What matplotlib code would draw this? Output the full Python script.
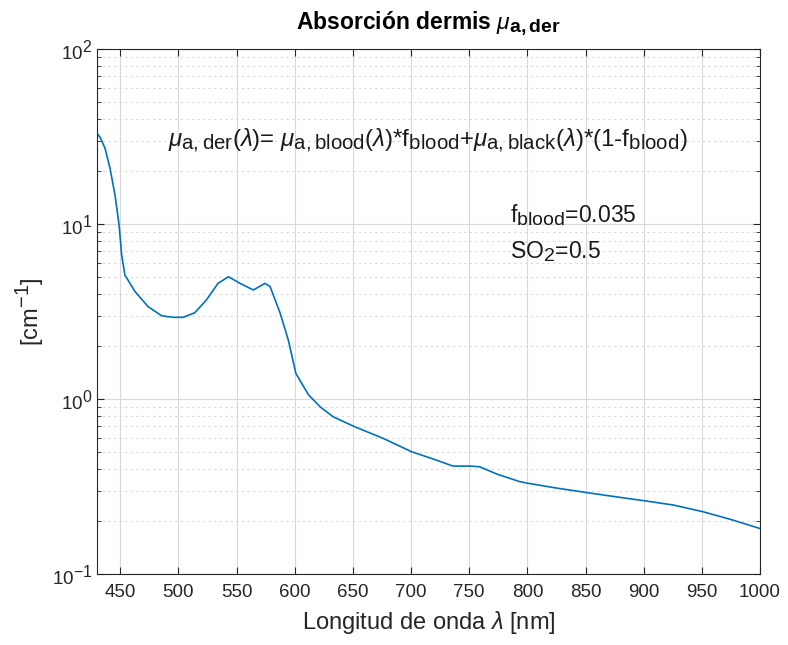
import matplotlib
matplotlib.use("Agg")
import matplotlib.pyplot as plt
import matplotlib._mathtext as _mt
import numpy as np
from matplotlib.ticker import LogLocator, FixedLocator, NullFormatter

# MATLAB-style larger sub/superscripts
_mt.SHRINK_FACTOR = 0.85

plt.rcParams['font.family'] = ['Liberation Sans', 'DejaVu Sans']
plt.rcParams['mathtext.fontset'] = 'custom'
plt.rcParams['mathtext.rm'] = 'Liberation Sans'
plt.rcParams['mathtext.it'] = 'Liberation Sans:italic'
plt.rcParams['mathtext.bf'] = 'Liberation Sans:bold'

wavelength = [430, 433, 436.9, 441.2, 445.5, 449, 451.2, 454, 462.7, 474, 485.6, 495.6,
              504, 514, 524, 534, 543, 553, 564.4, 574.5, 578.8, 587.4, 594.5, 601,
              611.7, 622, 633, 650.4, 676, 700.5, 720, 736, 750.7, 759, 775, 793.7,
              800.8, 825, 851, 875, 901, 925.5, 951, 975, 1000]
mu_a_der = [33.0, 31.0, 27.1, 20.8, 14.6, 9.86, 6.65, 5.11, 4.11, 3.37, 2.99, 2.93,
            2.93, 3.11, 3.68, 4.58, 5.0, 4.58, 4.20, 4.58, 4.39, 3.1, 2.17, 1.40,
            1.06, 0.90, 0.792, 0.70, 0.596, 0.50, 0.452, 0.414, 0.414, 0.41, 0.37, 0.337,
            0.330, 0.31, 0.292, 0.277, 0.262, 0.248, 0.227, 0.205, 0.182]

x_ticks = [450, 500, 550, 600, 650, 700, 750, 800, 850, 900, 950, 1000]

fig = plt.figure(figsize=(7.88, 6.45), dpi=100)
ax = fig.add_axes([0.1231, 0.110, 0.8414, 0.814])

ax.plot(wavelength, mu_a_der, color='#0072BD', lw=1.2)
ax.set_yscale('log')
ax.set_xlim(430, 1000)
ax.set_ylim(0.1, 100)
ax.xaxis.set_major_locator(FixedLocator(x_ticks))
ax.yaxis.set_major_locator(LogLocator(base=10, numticks=10))
ax.yaxis.set_minor_locator(LogLocator(base=10, subs=np.arange(2, 10), numticks=20))
ax.yaxis.set_minor_formatter(NullFormatter())

ax.grid(True, which='major', color='#d9d9d9', lw=0.8, ls='-')
ax.grid(True, which='minor', axis='y', color='#d9d9d9', lw=0.8, ls=(0, (2, 3)))
ax.set_axisbelow(True)

ax.tick_params(which='both', direction='in', top=True, right=True, colors='#262626',
               labelsize=13.5)
ax.tick_params(which='major', length=5)
ax.tick_params(which='minor', length=3)
ax.tick_params(axis='x', pad=7)
for s in ax.spines.values():
    s.set_color('#262626')
    s.set_linewidth(0.8)

ax.set_xlabel(r'Longitud de onda $\lambda$ [nm]', fontsize=17, color='#262626', labelpad=6)
ax.set_ylabel(r'[cm$^{-1}$]', fontsize=17, color='#262626')
ax.set_title(r'Absorción dermis $\mu_{\mathbf{a,der}}$', fontsize=16.5, fontweight='bold',
             color='black', pad=14)

ax.text(491, 30, r'$\mu_{\rm a,der}(\lambda)$= $\mu_{\rm a,blood}(\lambda)$*f$_{\rm blood}$+$\mu_{\rm a,black}(\lambda)$*(1-f$_{\rm blood}$)',
        fontsize=17.3, va='center', ha='left', color='#1a1a1a')
ax.text(785, 11.2, r'f$_{\rm blood}$=0.035', fontsize=16.5, va='center', ha='left', color='#1a1a1a')
ax.text(785, 7.0, r'SO$_{2}$=0.5', fontsize=16.5, va='center', ha='left', color='#1a1a1a')

fig.savefig('out.png', dpi=100)
